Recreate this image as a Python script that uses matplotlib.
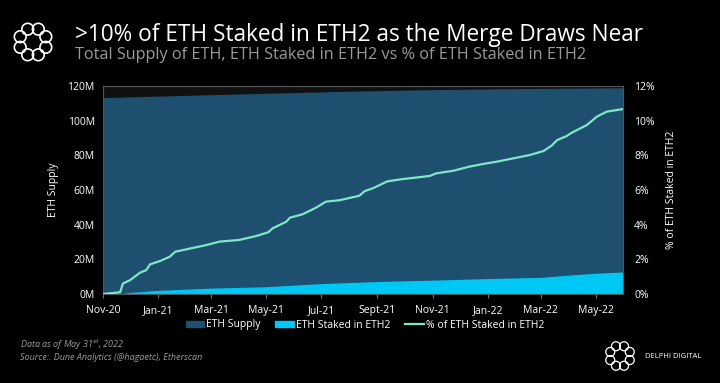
import matplotlib
matplotlib.use("Agg")
import matplotlib.pyplot as plt
import matplotlib.dates as mdates
from matplotlib.patches import Circle, Patch
from matplotlib.lines import Line2D
import numpy as np
import pandas as pd

plt.rcParams['font.family'] = ['Open Sans', 'DejaVu Sans']

#----------------  Data  ---------------------------------------

# total ETH supply (millions)
supply_dates = ['2020-11-01', '2021-02-01', '2021-05-01', '2021-08-01',
                '2021-11-01', '2022-02-01', '2022-05-31']
supply_m = [113.3, 114.6, 115.8, 117.0, 117.9, 118.5, 119.0]

# ETH staked in ETH2 (millions)
staked_dates = ['2020-11-01', '2020-11-20', '2020-12-01', '2021-01-01',
                '2021-03-01', '2021-05-01', '2021-07-01', '2021-09-01',
                '2021-11-01', '2022-01-01', '2022-03-01', '2022-04-01',
                '2022-05-01', '2022-05-31']
staked_m = [0.0, 0.1, 0.9, 2.1, 3.4, 4.2, 6.0, 7.2,
            8.0, 8.9, 9.6, 10.9, 12.0, 12.7]

# % of ETH staked in ETH2
pct_dates = ['2020-11-01', '2020-11-20', '2020-11-23', '2020-12-01', '2020-12-12',
             '2020-12-19', '2020-12-23', '2021-01-03', '2021-01-14', '2021-01-20',
             '2021-01-29', '2021-02-24', '2021-03-10', '2021-04-01', '2021-04-20',
             '2021-05-03', '2021-05-08', '2021-05-23', '2021-05-27', '2021-06-10',
             '2021-06-25', '2021-07-06', '2021-07-21', '2021-08-12', '2021-08-18',
             '2021-08-27', '2021-09-12', '2021-09-29', '2021-10-29', '2021-11-05',
             '2021-11-24', '2021-12-12', '2021-12-31', '2022-01-11', '2022-01-26',
             '2022-02-17', '2022-03-04', '2022-03-13', '2022-03-19', '2022-03-30',
             '2022-04-03', '2022-04-21', '2022-05-02', '2022-05-13', '2022-05-31']
pct = [0.0, 0.1, 0.6, 0.8, 1.23, 1.38, 1.71, 1.90, 2.15, 2.44,
       2.54, 2.83, 3.02, 3.12, 3.35, 3.56, 3.79, 4.17, 4.40, 4.60,
       4.98, 5.33, 5.41, 5.67, 5.94, 6.10, 6.50, 6.63, 6.81, 6.96,
       7.11, 7.35, 7.54, 7.63, 7.79, 8.02, 8.25, 8.56, 8.88, 9.12,
       9.27, 9.75, 10.23, 10.52, 10.67]

tick_dates = ['2020-11-01', '2021-01-01', '2021-03-01', '2021-05-01', '2021-07-01',
              '2021-09-01', '2021-11-01', '2022-01-01', '2022-03-01', '2022-05-01']
tick_labels = ['Nov-20', 'Jan-21', 'Mar-21', 'May-21', 'Jul-21',
               'Sept-21', 'Nov-21', 'Jan-22', 'Mar-22', 'May-22']

c_supply = '#1f4f6f'
c_staked = '#00c8f4'
c_pct = '#7ee8c6'
c_text = '#ffffff'
c_grey = '#9a9a9a'

#----------------  Figure  --------------------

fig = plt.figure(figsize=(7.2, 3.83), dpi=100, facecolor='black')

ax = fig.add_axes([103/720, 1-294/383, 520/720, 208/383])
ax.set_facecolor('#111111')

sd = pd.to_datetime(supply_dates)
kd = pd.to_datetime(staked_dates)
pd_ = pd.to_datetime(pct_dates)

ax.fill_between(sd, 0, supply_m, color=c_supply, lw=0, zorder=1)
ax.fill_between(kd, 0, staked_m, color=c_staked, lw=0, zorder=2)

ax.set_xlim(pd.Timestamp('2020-11-01'), pd.Timestamp('2022-05-31'))
ax.set_ylim(0, 120)
ax.set_yticks(np.arange(0, 121, 20))
ax.set_yticklabels([f'{v}M' for v in range(0, 121, 20)])
ax.set_xticks(pd.to_datetime(tick_dates))
ax.set_xticklabels(tick_labels)
ax.tick_params(axis='x', colors='#777777', labelcolor=c_text, labelsize=7.5, length=3, pad=5)
ax.tick_params(axis='y', length=0, labelcolor=c_text, labelsize=7.5, pad=6)
ax.set_ylabel('ETH Supply', color=c_text, fontsize=7.5, labelpad=6)

ax2 = ax.twinx()
ax2.plot(pd_, pct, color=c_pct, lw=1.6, zorder=3)
ax2.set_ylim(0, 12)
ax2.set_yticks(np.arange(0, 13, 2))
ax2.set_yticklabels([f'{v}%' for v in range(0, 13, 2)])
ax2.tick_params(axis='y', length=0, labelcolor=c_text, labelsize=7.5, pad=8)
ax2.set_ylabel('% of ETH Staked in ETH2', color=c_text, fontsize=7.5, labelpad=8)

for a in (ax, ax2):
    for s in a.spines.values():
        s.set_color('#555555')
        s.set_linewidth(0.8)

#----------------  Legend  --------------------

handles = [Patch(color=c_supply), Patch(color=c_staked), Line2D([], [], color=c_pct, lw=1.6)]
labels = ['ETH Supply', 'ETH Staked in ETH2', '% of ETH Staked in ETH2']
fig.legend(handles, labels, loc='center', bbox_to_anchor=(365/720, 1-325/383), ncol=3,
           frameon=False, fontsize=7.5, labelcolor=c_text, handlelength=1.8,
           handleheight=0.6, handletextpad=0.2, columnspacing=1.4)

#----------------  Titles and notes  --------------------

fig.text(75/720, 1-35/383, '>10% of ETH Staked in ETH2 as the Merge Draws Near',
         color=c_text, fontsize=16.3, va='center', ha='left')
fig.text(75/720, 1-55/383, 'Total Supply of ETH, ETH Staked in ETH2 vs % of ETH Staked in ETH2',
         color=c_grey, fontsize=11.7, va='center', ha='left')

fig.text(20/720, 1-345/383, 'Data as of May 31$^{st}$, 2022', color=c_grey, fontsize=6.5,
         style='italic', va='center')
fig.text(20/720, 1-358/383, 'Source:. Dune Analytics (@hagaetc), Etherscan', color=c_grey,
         fontsize=6.5, style='italic', va='center')
fig.text(645/720, 1-356/383, 'DELPHI DIGITAL', color=c_text, fontsize=5.5, va='center')


# ring logo: loops of small circles
def draw_logo(cx, cy, size, lw):
    lax = fig.add_axes([(cx-size)/720, 1-(cy+size)/383, 2*size/720, 2*size/383])
    lax.set_xlim(-1, 1)
    lax.set_ylim(-1, 1)
    lax.set_aspect('equal')
    lax.axis('off')
    for k in range(8):
        ang = 2*np.pi*k/8 + np.pi/8
        lax.add_patch(Circle((0.66*np.cos(ang), 0.66*np.sin(ang)), 0.28,
                             fill=False, ec='white', lw=lw))


draw_logo(33, 42, 21, 1.2)
draw_logo(620, 356, 16, 0.9)

fig.savefig('out.png', dpi=100, facecolor='black')
